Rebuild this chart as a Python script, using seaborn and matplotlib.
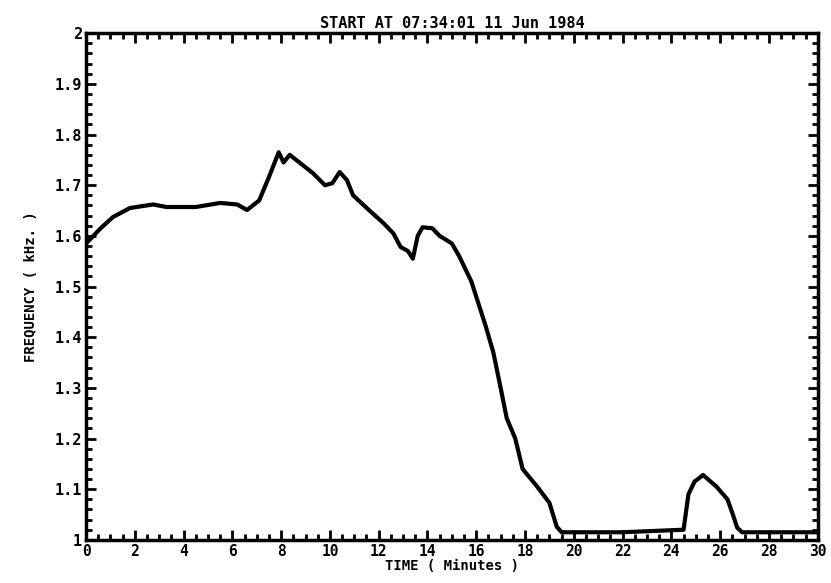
import matplotlib
matplotlib.use("Agg")
import matplotlib.pyplot as plt
import seaborn as sns
import pandas as pd
import numpy as np
from matplotlib.ticker import MultipleLocator

# values
time_min = [0, 0.2, 0.6, 1.1, 1.8, 2.75, 3.3, 4.5, 5.5, 6.2, 6.6, 7.1, 7.5, 7.9,
            8.1, 8.35, 8.8, 9.3, 9.8, 10.1, 10.4, 10.7, 10.95, 11.6, 12.2, 12.6,
            12.9, 13.2, 13.4, 13.6, 13.8, 14.2, 14.5, 15.0, 15.3, 15.8, 16.4,
            16.7, 17.0, 17.25, 17.6, 17.9, 18.5, 19.0, 19.3, 19.5, 22, 24.5,
            24.7, 24.95, 25.3, 25.85, 26.3, 26.5, 26.7, 26.9, 30]
freq_khz = [1.585, 1.595, 1.615, 1.637, 1.655, 1.662, 1.657, 1.657, 1.665, 1.662,
            1.651, 1.67, 1.716, 1.765, 1.745, 1.76, 1.743, 1.724, 1.70, 1.704,
            1.726, 1.71, 1.68, 1.651, 1.625, 1.605, 1.578, 1.57, 1.555, 1.60,
            1.617, 1.615, 1.60, 1.585, 1.56, 1.51, 1.42, 1.37, 1.30, 1.24, 1.20,
            1.14, 1.105, 1.073, 1.026, 1.015, 1.015, 1.02, 1.09, 1.115, 1.128,
            1.105, 1.08, 1.053, 1.024, 1.015, 1.015]
y_ticks = [1.0, 1.1, 1.2, 1.3, 1.4, 1.5, 1.6, 1.7, 1.8, 1.9, 2.0]
y_labels = ["1", "1.1", "1.2", "1.3", "1.4", "1.5", "1.6", "1.7", "1.8", "1.9", "2"]
x_ticks = list(range(0, 31, 2))

df = pd.DataFrame({"time": time_min, "freq": freq_khz})

sns.set_style("ticks")
plt.rcParams["font.family"] = ["DejaVu Sans Mono", "DejaVu Sans"]
plt.rcParams["font.weight"] = "bold"
plt.rcParams["text.color"] = "black"
plt.rcParams["axes.labelcolor"] = "black"
plt.rcParams["xtick.color"] = "black"
plt.rcParams["ytick.color"] = "black"

fig = plt.figure(figsize=(8.31, 5.83), dpi=100)
ax = fig.add_axes([0.1035, 0.074, 0.8805, 0.869])

sns.lineplot(data=df, x="time", y="freq", sort=False, color="black",
             linewidth=3, ax=ax)

ax.set_xlim(0, 30)
ax.set_ylim(1, 2)
ax.set_xticks(x_ticks)
ax.set_xticklabels([str(t) for t in x_ticks], fontsize=10.5, fontweight="bold")
ax.set_yticks(y_ticks)
ax.set_yticklabels(y_labels, fontsize=11, fontweight="bold")
ax.xaxis.set_minor_locator(MultipleLocator(0.5))
ax.yaxis.set_minor_locator(MultipleLocator(0.02))
ax.tick_params(which="both", direction="in", top=True, right=True, width=2,
               colors="black")
ax.tick_params(which="major", length=7, pad=3)
ax.tick_params(which="minor", length=4)
for s in ax.spines.values():
    s.set_linewidth(2.5)
    s.set_color("black")

ax.set_xlabel("TIME ( Minutes )", fontsize=10, fontweight="bold", labelpad=0)
ax.set_ylabel("FREQUENCY ( kHz. )", fontsize=10, fontweight="bold", labelpad=12)
ax.set_title("START AT 07:34:01 11 Jun 1984", fontsize=11, fontweight="bold", pad=4)

fig.savefig("out.png", dpi=100)
